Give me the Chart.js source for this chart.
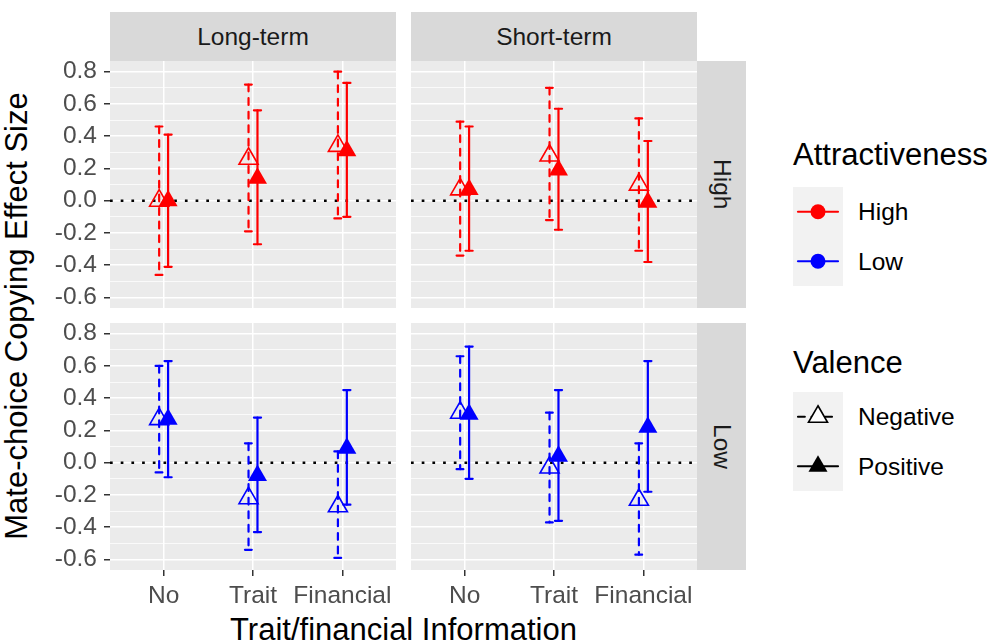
<!DOCTYPE html>
<html lang="en">
<head>
<meta charset="utf-8">
<title>Mate-choice Copying Effect Size</title>
<script src="https://cdn.jsdelivr.net/npm/chart.js@4.4.1/dist/chart.umd.min.js"></script>
<style>
  html, body { margin: 0; padding: 0; background: #fff; }
  #page { position: relative; width: 1005px; height: 642px; overflow: hidden;
          font-family: "Liberation Sans", Arial, sans-serif; }
  #page canvas { position: absolute; left: 0; top: 0; }
  .strip { position: absolute; background: #D9D9D9; color: #1A1A1A; font-size: 24.5px;
           display: flex; align-items: center; justify-content: center; }
  .strip.v span { writing-mode: vertical-rl; }
  .axis-title { position: absolute; font-size: 31px; line-height: 31px; color: #000; white-space: nowrap; }
  .legend-title { position: absolute; font-size: 31px; line-height: 31px; color: #000; white-space: nowrap; }
  .legend-keys { position: absolute; background: #F2F2F2; }
  .legend-keys svg { display: block; }
  .legend-label { position: absolute; font-size: 24.5px; line-height: 25px; color: #000; white-space: nowrap; }
</style>
</head>
<body>
<div id="page">
  <div class="strip" style="left:110px;top:12px;width:286px;height:49px;">Long-term</div>
  <div class="strip" style="left:411px;top:12px;width:286px;height:49px;">Short-term</div>
  <div class="strip v" style="left:697px;top:61px;width:49px;height:247px;"><span>High</span></div>
  <div class="strip v" style="left:697px;top:323px;width:49px;height:247px;"><span>Low</span></div>

  <div class="axis-title" id="ytitle" style="left:16px;top:315.5px;transform:translate(-50%,-50%) rotate(-90deg);">Mate-choice Copying Effect Size</div>
  <div class="axis-title" id="xtitle" style="left:403.5px;top:614px;transform:translateX(-50%);">Trait/financial Information</div>

  <div class="legend-title" style="left:793px;top:139px;">Attractiveness</div>
  <div class="legend-keys" id="keysAttr" style="left:793px;top:187px;width:50px;height:99px;"></div>
  <div class="legend-label" style="left:858px;top:199px;">High</div>
  <div class="legend-label" style="left:858px;top:249px;">Low</div>

  <div class="legend-title" style="left:793px;top:347px;">Valence</div>
  <div class="legend-keys" id="keysVal" style="left:793px;top:392px;width:50px;height:99px;"></div>
  <div class="legend-label" style="left:858px;top:404px;">Negative</div>
  <div class="legend-label" style="left:858px;top:454px;">Positive</div>
</div>

<script>
// ---- data -----------------------------------------------------------------
const categories = ['No', 'Trait', 'Financial'];
const yTicks = [-0.6, -0.4, -0.2, 0.0, 0.2, 0.4, 0.6, 0.8];
const yMinorTicks = [-0.5, -0.3, -0.1, 0.1, 0.3, 0.5, 0.7];

// Long-term, high attractiveness
const longHighNegEst  = [0.00, 0.26, 0.34];
const longHighNegLow  = [-0.46, -0.19, -0.11];
const longHighNegHigh = [0.46, 0.72, 0.80];
const longHighPosEst  = [0.00, 0.14, 0.31];
const longHighPosLow  = [-0.41, -0.27, -0.10];
const longHighPosHigh = [0.41, 0.56, 0.73];

// Short-term, high attractiveness
const shortHighNegEst  = [0.07, 0.28, 0.10];
const shortHighNegLow  = [-0.34, -0.12, -0.31];
const shortHighNegHigh = [0.49, 0.70, 0.51];
const shortHighPosEst  = [0.07, 0.19, -0.01];
const shortHighPosLow  = [-0.31, -0.18, -0.38];
const shortHighPosHigh = [0.46, 0.57, 0.37];

// Long-term, low attractiveness
const longLowNegEst  = [0.27, -0.22, -0.27];
const longLowNegLow  = [-0.06, -0.54, -0.59];
const longLowNegHigh = [0.60, 0.12, 0.07];
const longLowPosEst  = [0.27, -0.08, 0.09];
const longLowPosLow  = [-0.09, -0.43, -0.26];
const longLowPosHigh = [0.63, 0.28, 0.45];

// Short-term, low attractiveness
const shortLowNegEst  = [0.31, -0.03, -0.23];
const shortLowNegLow  = [-0.04, -0.37, -0.57];
const shortLowNegHigh = [0.66, 0.31, 0.12];
const shortLowPosEst  = [0.30, 0.04, 0.22];
const shortLowPosLow  = [-0.10, -0.36, -0.18];
const shortLowPosHigh = [0.72, 0.45, 0.63];

const attractColors = { High: '#FF0000', Low: '#0000FF' };

// ---- layout ---------------------------------------------------------------
const PAGE_W = 1005, PAGE_H = 642;
const COLS = [[110, 396], [411, 697]];
const ROWS = [[61, 308], [323, 570]];
const Y_AXIS_W = 100;    // room for the y tick labels (left column)
const X_AXIS_H = 60;     // room for the x tick labels (bottom row)
const Y_MIN = -0.665, Y_MAX = 0.866;
const X_MIN = 0.4, X_MAX = 3.6;
const DODGE = 0.05;      // horizontal shift of the two valence groups
const CAP_HALF = 0.04;   // half width of the error bar caps
const POINT_R = 11;
const BAR_W = 2.2;
const FONT = "'Liberation Sans', Arial, sans-serif";

const panels = [
  { col: 0, row: 0, attr: 'High',
    neg: [longHighNegEst, longHighNegLow, longHighNegHigh],
    pos: [longHighPosEst, longHighPosLow, longHighPosHigh] },
  { col: 1, row: 0, attr: 'High',
    neg: [shortHighNegEst, shortHighNegLow, shortHighNegHigh],
    pos: [shortHighPosEst, shortHighPosLow, shortHighPosHigh] },
  { col: 0, row: 1, attr: 'Low',
    neg: [longLowNegEst, longLowNegLow, longLowNegHigh],
    pos: [longLowPosEst, longLowPosLow, longLowPosHigh] },
  { col: 1, row: 1, attr: 'Low',
    neg: [shortLowNegEst, shortLowNegLow, shortLowNegHigh],
    pos: [shortLowPosEst, shortLowPosLow, shortLowPosHigh] }
];

const isMajor = v => yTicks.some(t => Math.abs(t - v) < 1e-9);

function buildPoints(series, shift) {
  const [est, lo, hi] = series;
  return est.map((v, i) => ({ x: i + 1 + shift, y: v, lo: lo[i], hi: hi[i] }));
}

// grey panel background
const panelBackground = {
  id: 'panelBackground',
  beforeDraw(chart) {
    const { ctx, chartArea: a } = chart;
    ctx.save();
    ctx.fillStyle = '#EBEBEB';
    ctx.fillRect(a.left, a.top, a.right - a.left, a.bottom - a.top);
    ctx.restore();
  }
};

// dotted zero line and the confidence-interval bars
const intervals = {
  id: 'intervals',
  beforeDatasetsDraw(chart) {
    const { ctx, chartArea: a, scales: { x, y } } = chart;
    ctx.save();
    ctx.beginPath();
    ctx.rect(a.left, a.top, a.right - a.left, a.bottom - a.top);
    ctx.clip();

    const y0 = y.getPixelForValue(0);
    ctx.strokeStyle = '#000';
    ctx.lineWidth = 2.6;
    ctx.lineCap = 'butt';
    ctx.setLineDash([2.7, 8]);
    ctx.beginPath();
    ctx.moveTo(a.left, y0);
    ctx.lineTo(a.right, y0);
    ctx.stroke();

    const seg = (x1, y1, x2, y2) => {
      ctx.beginPath();
      ctx.moveTo(x1, y1);
      ctx.lineTo(x2, y2);
      ctx.stroke();
    };
    chart.data.datasets.forEach(ds => {
      ctx.strokeStyle = ds.borderColor;
      ctx.lineWidth = BAR_W;
      ctx.lineCap = 'round';
      ctx.setLineDash(ds.intervalDash);
      ds.data.forEach(p => {
        const px = x.getPixelForValue(p.x);
        const hw = x.getPixelForValue(p.x + CAP_HALF) - px;
        const top = y.getPixelForValue(p.hi);
        const bot = y.getPixelForValue(p.lo);
        seg(px - hw, top, px + hw, top);
        seg(px, top, px, bot);
        seg(px - hw, bot, px + hw, bot);
      });
    });
    ctx.restore();
  }
};

const page = document.getElementById('page');

panels.forEach(p => {
  const canvas = document.createElement('canvas');
  canvas.width = PAGE_W;
  canvas.height = PAGE_H;
  page.appendChild(canvas);

  const [left, right] = COLS[p.col];
  const [top, bottom] = ROWS[p.row];
  const showX = p.row === 1;
  const showY = p.col === 0;
  const yW = showY ? Y_AXIS_W : 0;
  const xH = showX ? X_AXIS_H : 0;
  const color = attractColors[p.attr];

  new Chart(canvas, {
    type: 'scatter',
    data: {
      datasets: [
        { label: 'Negative', data: buildPoints(p.neg, -DODGE),
          pointStyle: 'triangle', pointRadius: POINT_R, pointHoverRadius: POINT_R,
          backgroundColor: 'rgba(0,0,0,0)', borderColor: color, pointBorderWidth: 1.6,
          intervalDash: [6.8, 6.8] },
        { label: 'Positive', data: buildPoints(p.pos, DODGE),
          pointStyle: 'triangle', pointRadius: POINT_R, pointHoverRadius: POINT_R,
          backgroundColor: color, borderColor: color, pointBorderWidth: 0,
          intervalDash: [] }
      ]
    },
    options: {
      responsive: false,
      animation: false,
      events: [],
      layout: { padding: { left: left - yW, top: top, right: PAGE_W - right, bottom: PAGE_H - bottom - xH } },
      plugins: { legend: { display: false }, tooltip: { enabled: false } },
      scales: {
        x: {
          type: 'linear', position: 'bottom', min: X_MIN, max: X_MAX, bounds: 'data',
          border: { display: false },
          grid: { color: '#FFFFFF', lineWidth: 1.5, drawTicks: showX, tickLength: 6,
                  tickColor: '#333333', tickWidth: 1.5 },
          ticks: { display: showX, autoSkip: false, maxRotation: 0, minRotation: 0,
                   padding: 6, color: '#4D4D4D', font: { family: FONT, size: 24.5 },
                   callback: v => categories[Math.round(v) - 1] },
          afterBuildTicks: s => { s.ticks = categories.map((c, i) => ({ value: i + 1 })); },
          afterFit: s => { s.height = xH; }
        },
        y: {
          type: 'linear', position: 'left', min: Y_MIN, max: Y_MAX, bounds: 'data',
          border: { display: false },
          grid: { color: '#FFFFFF',
                  lineWidth: c => isMajor(c.tick.value) ? 1.5 : 0.75,
                  drawTicks: showY, tickLength: 6, tickWidth: 1.5,
                  tickColor: c => isMajor(c.tick.value) ? '#333333' : 'rgba(0,0,0,0)' },
          ticks: { display: showY, autoSkip: false, padding: 7, color: '#4D4D4D',
                   font: { family: FONT, size: 24.5 },
                   callback: v => isMajor(v) ? v.toFixed(1) : '' },
          afterBuildTicks: s => {
            s.ticks = yTicks.concat(yMinorTicks).sort((a, b) => a - b).map(v => ({ value: v }));
          },
          afterFit: s => { s.width = yW; }
        }
      }
    },
    plugins: [panelBackground, intervals]
  });
});

// ---- legend keys ------------------------------------------------------------
const SVG_NS = 'http://www.w3.org/2000/svg';
function triPoints(cx, cy, r) {
  const s = Math.sin(Math.PI / 3) * r;
  return `${cx},${cy - r} ${cx + s},${cy + r / 2} ${cx - s},${cy + r / 2}`;
}
function addKeys(holderId, keys) {
  const holder = document.getElementById(holderId);
  const svg = document.createElementNS(SVG_NS, 'svg');
  svg.setAttribute('width', 50);
  svg.setAttribute('height', 99);
  keys.forEach((k, i) => {
    const cy = 24.75 + i * 49.5;
    const line = document.createElementNS(SVG_NS, 'line');
    line.setAttribute('x1', 5); line.setAttribute('x2', 45);
    line.setAttribute('y1', cy); line.setAttribute('y2', cy);
    line.setAttribute('stroke', k.color);
    line.setAttribute('stroke-width', BAR_W);
    line.setAttribute('stroke-linecap', 'round');
    if (k.dash) line.setAttribute('stroke-dasharray', k.dash);
    svg.appendChild(line);
    let m;
    if (k.marker === 'circle') {
      m = document.createElementNS(SVG_NS, 'circle');
      m.setAttribute('cx', 25); m.setAttribute('cy', cy); m.setAttribute('r', 7.5);
      m.setAttribute('fill', k.color);
    } else {
      m = document.createElementNS(SVG_NS, 'polygon');
      m.setAttribute('points', triPoints(25, cy, POINT_R));
      if (k.open) {
        m.setAttribute('fill', '#FFFFFF');
        m.setAttribute('stroke', k.color);
        m.setAttribute('stroke-width', 1.6);
      } else {
        m.setAttribute('fill', k.color);
      }
    }
    svg.appendChild(m);
  });
  holder.appendChild(svg);
}
addKeys('keysAttr', [
  { color: attractColors.High, marker: 'circle' },
  { color: attractColors.Low, marker: 'circle' }
]);
addKeys('keysVal', [
  { color: '#000000', marker: 'triangle', open: true, dash: '6.8 6.8' },
  { color: '#000000', marker: 'triangle', open: false }
]);
</script>
</body>
</html>
